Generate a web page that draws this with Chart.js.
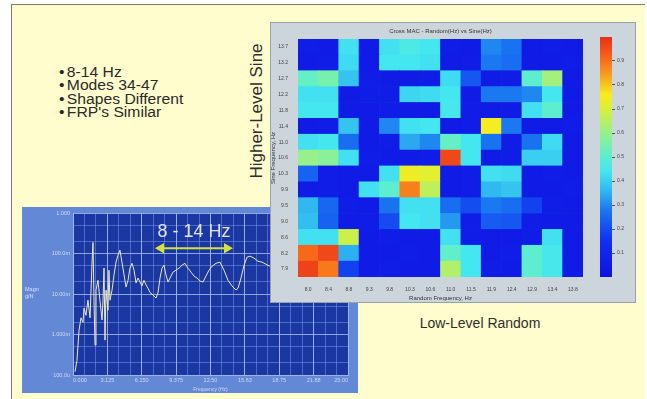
<!DOCTYPE html>
<html>
<head>
<meta charset="utf-8">
<script src="https://cdn.jsdelivr.net/npm/chart.js@4.4.1/dist/chart.umd.min.js"></script>
<style>
  html, body { margin: 0; padding: 0; background: #ffffff; width: 647px; height: 399px; overflow: hidden;
    font-family: "Liberation Sans", Arial, sans-serif; }
  #slide { position: absolute; left: 11px; top: 4px; width: 634px; height: 395px; background: #fffdcd;
    border-left: 1px solid #7c7c72; border-top: 1px solid #7c7c72; box-sizing: border-box; }
  .bullets { position: absolute; left: 59px; top: 66px; font-size: 14px; line-height: 13.4px; color: #2a2a2a;
    white-space: nowrap; transform: scaleX(1.12); transform-origin: left top; }
  .bullets span { display: inline-block; width: 7px; }
  .side { position: absolute; font-size: 14px; color: #2e2e2e; white-space: nowrap; transform: translate(-50%, -50%); }
  #sineLabel { left: 257px; top: 111px; font-size: 17px; transform: translate(-50%, -50%) rotate(-90deg); }
  #randomLabel { left: 480px; top: 323px; }
  #frpPanel { position: absolute; left: 22px; top: 207px; width: 336px; height: 186px; background: #6388d6; }
  #macPanel { position: absolute; left: 270px; top: 22px; width: 366px; height: 281px; background: #ccd4dc;
    border: 1px solid #98a2ae; box-sizing: border-box; }
  canvas { position: absolute; }
</style>
</head>
<body>
<div id="slide"></div>
<div class="bullets">
  <div><span>•</span>8-14 Hz</div>
  <div><span>•</span>Modes 34-47</div>
  <div><span>•</span>Shapes Different</div>
  <div><span>•</span>FRP's Similar</div>
</div>
<div class="side" id="sineLabel">Higher-Level Sine</div>
<div class="side" id="randomLabel">Low-Level Random</div>

<div id="frpPanel"></div>
<canvas id="frp" width="336" height="186" style="left:22px;top:207px;width:336px;height:186px"></canvas>

<div id="macPanel"></div>
<canvas id="mac" width="366" height="280" style="left:270px;top:22px;width:366px;height:280px"></canvas>
<canvas id="cbar" width="40" height="280" style="left:596px;top:22px;width:40px;height:280px"></canvas>

<script>
// ---- FRP magnitude trace (frequency in Hz, magnitude in g/N) ----
const frpFreqHz = [0.18,0.36,0.55,0.73,0.91,1.0,1.18,1.36,1.55,1.73,1.82,1.91,2.0,2.09,2.27,2.45,2.64,2.73,2.82,2.91,
  3.0,3.18,3.27,3.36,3.55,3.73,3.91,4.09,4.27,4.45,4.64,4.82,5.0,5.18,5.36,5.55,5.73,5.91,6.09,6.27,6.45,6.64,6.82,
  7.0,7.27,7.55,7.73,7.91,8.09,8.27,8.45,8.64,8.82,9.09,9.36,9.64,9.91,10.18,10.45,10.73,11.0,11.27,11.55,11.82,
  12.09,12.36,12.64,13.0,13.36,13.73,14.09,14.45,14.82,15.0,15.27,15.55,15.82,16.09,16.45,16.82,17.18,17.55,17.91];
const frpMag = [1.2e-4,2.3e-4,1.3e-3,2.6e-3,2.0e-3,4.5e-3,3.0e-3,7.1e-3,2.6e-3,0.062,0.19,7.1e-3,5.5e-4,0.0126,0.022,
  7.1e-3,2.3e-3,7.1e-3,0.044,7.3e-4,0.0126,4.0e-3,0.039,7.1e-3,0.0126,0.030,0.062,0.092,0.122,0.062,0.030,0.015,0.022,
  0.044,0.058,0.039,0.019,0.025,0.020,0.016,0.022,0.017,0.014,0.011,0.0095,0.0080,0.011,0.025,0.044,0.052,0.030,0.020,
  0.025,0.035,0.039,0.044,0.052,0.058,0.044,0.035,0.028,0.025,0.021,0.020,0.028,0.039,0.049,0.058,0.062,0.039,0.022,
  0.016,0.0126,0.014,0.025,0.052,0.082,0.087,0.078,0.065,0.062,0.055,0.049];
const bandHz = [8, 14];
const bandLevel = 0.137;

const frpXTicks = [0, 3.125, 6.25, 9.375, 12.5, 15.625, 18.75, 21.875, 25];
const frpXTickLabels = ['0.000', '3.125', '6.250', '9.375', '12.50', '15.63', '18.75', '21.88', '25.00'];
const frpYTicks = [1e-4, 1e-3, 1e-2, 1e-1, 1];
const frpYTickLabels = ['100.0u', '1.000m', '10.00m', '100.0m', '1.000'];

// ---- MAC matrix: rows are sine modes (listed top row first), columns are random modes 34-47 ----
const randomFreqLabels = ['8.0','8.4','8.8','9.3','9.8','10.3','10.6','11.0','11.5','11.9','12.4','12.9','13.4','13.8'];
const sineFreqLabels = ['7.9','8.2','8.6','9.0','9.5','9.9','10.3','10.6','11.0','11.4','11.8','12.2','12.7','13.2','13.7']; // bottom to top
const macRowsTopDown = [
  [0.06,0.05,0.43,0.05,0.43,0.46,0.44,0.06,0.05,0.30,0.27,0.05,0.06,0.05],
  [0.05,0.06,0.42,0.05,0.44,0.44,0.43,0.05,0.06,0.28,0.26,0.05,0.05,0.06],
  [0.52,0.55,0.38,0.06,0.05,0.05,0.06,0.42,0.22,0.05,0.06,0.50,0.62,0.05],
  [0.43,0.43,0.05,0.06,0.06,0.41,0.42,0.44,0.05,0.28,0.28,0.30,0.44,0.05],
  [0.44,0.44,0.05,0.05,0.06,0.05,0.05,0.45,0.06,0.05,0.05,0.43,0.50,0.05],
  [0.05,0.06,0.38,0.05,0.30,0.43,0.44,0.05,0.06,0.75,0.28,0.05,0.05,0.06],
  [0.43,0.44,0.26,0.05,0.06,0.34,0.30,0.52,0.44,0.27,0.06,0.27,0.42,0.05],
  [0.60,0.58,0.43,0.06,0.05,0.05,0.06,0.96,0.44,0.05,0.06,0.40,0.40,0.05],
  [0.24,0.06,0.05,0.05,0.43,0.74,0.72,0.05,0.06,0.43,0.42,0.05,0.06,0.05],
  [0.05,0.06,0.05,0.43,0.50,0.88,0.66,0.05,0.06,0.36,0.38,0.05,0.05,0.06],
  [0.36,0.25,0.06,0.05,0.27,0.43,0.43,0.26,0.20,0.28,0.26,0.18,0.06,0.05],
  [0.37,0.24,0.05,0.06,0.20,0.44,0.43,0.32,0.06,0.23,0.22,0.06,0.05,0.05],
  [0.43,0.43,0.68,0.05,0.06,0.05,0.05,0.43,0.06,0.05,0.05,0.06,0.43,0.05],
  [0.91,0.96,0.35,0.05,0.05,0.06,0.05,0.51,0.44,0.05,0.06,0.50,0.45,0.05],
  [0.97,0.89,0.18,0.05,0.06,0.05,0.05,0.64,0.44,0.06,0.05,0.50,0.45,0.05]
];
const cbarTicks = [0.1, 0.2, 0.3, 0.4, 0.5, 0.6, 0.7, 0.8, 0.9];
const cbarTickLabels = ['0.1', '0.2', '0.3', '0.4', '0.5', '0.6', '0.7', '0.8', '0.9'];

// ---- colour map (jet-like, blue to red) ----
const cmapStops = [[0,'#1010e0'],[0.15,'#1030f0'],[0.28,'#1a78f0'],[0.36,'#30b8f0'],[0.44,'#44e6f0'],
  [0.52,'#64f0c4'],[0.62,'#a4f07c'],[0.70,'#d8f038'],[0.76,'#f8ec1c'],[0.84,'#f8a020'],[0.92,'#f86018'],[1,'#e83018']];
function hexRgb(h) { return [parseInt(h.slice(1,3),16), parseInt(h.slice(3,5),16), parseInt(h.slice(5,7),16)]; }
function cmap(v) {
  for (let i = 1; i < cmapStops.length; i++) {
    const [t1, c1] = cmapStops[i];
    if (v <= t1) {
      const [t0, c0] = cmapStops[i-1];
      const f = (v - t0) / (t1 - t0);
      const a = hexRgb(c0), b = hexRgb(c1);
      return `rgb(${a.map((x, k) => Math.round(x + (b[k] - x) * f)).join(',')})`;
    }
  }
  return cmapStops[cmapStops.length-1][1];
}

const FONT = '"Liberation Sans", Arial, sans-serif';
Chart.defaults.font.family = FONT;
Chart.defaults.animation = false;

// fills the plot area
const plotBg = {
  id: 'plotBg',
  beforeDraw(chart, args, opts) {
    const { ctx, chartArea: a } = chart;
    ctx.save(); ctx.fillStyle = opts.color;
    ctx.fillRect(a.left, a.top, a.right - a.left, a.bottom - a.top); ctx.restore();
  }
};

// band annotation text and the amplitude label of the FRP plot
const frpText = {
  id: 'frpText',
  afterDatasetsDraw(chart) {
    const { ctx, scales: { x, y }, chartArea: a } = chart;
    ctx.save();
    ctx.font = `18px ${FONT}`; ctx.fillStyle = '#dde3f2'; ctx.textAlign = 'center'; ctx.textBaseline = 'middle';
    ctx.fillText(`${bandHz[0]} - ${bandHz[1]} Hz`, x.getPixelForValue((bandHz[0] + bandHz[1]) / 2), y.getPixelForValue(bandLevel) - 16);
    ctx.font = `5.5px ${FONT}`; ctx.fillStyle = '#d6e0f6'; ctx.textAlign = 'left';
    ctx.fillText('Magn', 3, (a.top + a.bottom) / 2 - 5);
    ctx.fillText('g/N', 3, (a.top + a.bottom) / 2 + 2);
    ctx.restore();
  }
};

new Chart(document.getElementById('frp'), {
  type: 'line',
  data: {
    datasets: [
      { data: frpFreqHz.map((f, i) => ({ x: f, y: frpMag[i] })), borderColor: '#ece8c0', borderWidth: 1,
        pointRadius: 0, tension: 0 },
      { data: bandHz.map(f => ({ x: f, y: bandLevel })), borderColor: '#d6e23c', borderWidth: 2,
        pointStyle: 'triangle', pointRadius: 4, pointRotation: [-90, 90],
        pointBackgroundColor: '#d6e23c', pointBorderColor: '#d6e23c' }
    ]
  },
  options: {
    responsive: false, maintainAspectRatio: false,
    layout: { padding: { left: 0, right: 10, top: 6, bottom: 0 } },
    plugins: { legend: { display: false }, tooltip: { enabled: false }, plotBg: { color: '#1a37a2' } },
    scales: {
      xg: { type: 'linear', min: 0, max: 25, position: 'bottom',
        afterBuildTicks: a => { a.ticks = Array.from({ length: 23 }, (_, k) => ({ value: (k + 1) * 25 / 24 })); },
        ticks: { display: false }, border: { display: false },
        grid: { color: 'rgba(120,150,235,0.55)', lineWidth: 1, drawTicks: false },
        afterFit: a => { a.height = 0; } },
      yg: { type: 'logarithmic', min: 1e-4, max: 1, position: 'left',
        afterBuildTicks: a => { a.ticks = [2e-4,5e-4,2e-3,5e-3,2e-2,5e-2,0.2,0.5].map(v => ({ value: v })); },
        ticks: { display: false }, border: { display: false },
        grid: { color: 'rgba(120,150,235,0.55)', lineWidth: 1, drawTicks: false },
        afterFit: a => { a.width = 0; } },
      x: { type: 'linear', min: 0, max: 25,
        afterBuildTicks: a => { a.ticks = frpXTicks.map(v => ({ value: v })); },
        ticks: { callback: (v, i) => frpXTickLabels[i], align: 'inner', color: '#d0daf4', font: { size: 5.5 },
          padding: 2, maxRotation: 0, autoSkip: false },
        grid: { color: 'rgba(170,190,245,0.8)', drawTicks: false },
        border: { color: '#9fb4ee' },
        title: { display: true, text: 'Frequency (Hz)', color: '#d0daf4', font: { size: 5 }, padding: 0 },
        afterFit: a => { a.height = 18; } },
      y: { type: 'logarithmic', min: 1e-4, max: 1,
        afterBuildTicks: a => { a.ticks = frpYTicks.map(v => ({ value: v })); },
        ticks: { callback: (v, i) => frpYTickLabels[i], color: '#d0daf4', font: { size: 5.5 }, padding: 3, autoSkip: false },
        grid: { color: 'rgba(170,190,245,0.8)', drawTicks: false },
        border: { color: '#9fb4ee' },
        afterFit: a => { a.width = 51; } }
    }
  },
  plugins: [plotBg, frpText]
});

// ---- MAC matrix as stacked unit cells, one dataset per sine mode ----
const macRowsBottomUp = macRowsTopDown.slice().reverse();
const macTitle = {
  id: 'macTitle',
  afterDraw(chart) {
    const { ctx, chartArea: a } = chart;
    ctx.save(); ctx.font = `6px ${FONT}`; ctx.fillStyle = '#333'; ctx.textAlign = 'center'; ctx.textBaseline = 'middle';
    ctx.fillText('Cross MAC - Random(Hz) vs Sine(Hz)', (a.left + a.right) / 2, a.top - 8);
    ctx.restore();
  }
};
new Chart(document.getElementById('mac'), {
  type: 'bar',
  data: {
    labels: randomFreqLabels,
    datasets: macRowsBottomUp.map(row => ({
      data: row.map(() => 1),
      backgroundColor: row.map(cmap),
      borderWidth: 0, barPercentage: 1, categoryPercentage: 1
    }))
  },
  options: {
    responsive: false, maintainAspectRatio: false,
    layout: { padding: { left: 0, right: 53, top: 17, bottom: 0 } },
    plugins: { legend: { display: false }, tooltip: { enabled: false } },
    scales: {
      x: { stacked: true,
        ticks: { color: '#444', font: { size: 5 }, padding: 2, maxRotation: 0, autoSkip: false },
        grid: { display: false }, border: { display: false },
        title: { display: true, text: 'Random Frequency, Hz', color: '#333', font: { size: 6 }, padding: 0 },
        afterFit: a => { a.height = 25; } },
      y: { stacked: true, min: 0, max: sineFreqLabels.length,
        afterBuildTicks: a => { a.ticks = sineFreqLabels.map((_, i) => ({ value: i + 0.5 })); },
        ticks: { callback: (v, i) => sineFreqLabels[i], color: '#444', font: { size: 5 }, padding: 2, autoSkip: false },
        grid: { display: false }, border: { display: false },
        title: { display: true, text: 'Sine Frequency, Hz', color: '#333', font: { size: 6 }, padding: 0 },
        afterFit: a => { a.width = 28; } }
    }
  },
  plugins: [macTitle]
});

// ---- colour bar ----
new Chart(document.getElementById('cbar'), {
  type: 'bar',
  data: {
    labels: [''],
    datasets: [{
      data: [[0, 1]], borderWidth: 0, barPercentage: 1, categoryPercentage: 1,
      backgroundColor: c => {
        const a = c.chart.chartArea; if (!a) return null;
        const g = c.chart.ctx.createLinearGradient(0, a.bottom, 0, a.top);
        cmapStops.forEach(([t, col]) => g.addColorStop(t, col));
        return g;
      }
    }]
  },
  options: {
    responsive: false, maintainAspectRatio: false,
    layout: { padding: { left: 4, right: 0, top: 15, bottom: 25 } },
    plugins: { legend: { display: false }, tooltip: { enabled: false } },
    scales: {
      x: { display: false },
      y: { position: 'right', min: 0, max: 1,
        afterBuildTicks: a => { a.ticks = cbarTicks.map(v => ({ value: v })); },
        ticks: { callback: (v, i) => cbarTickLabels[i], color: '#444', font: { size: 5 }, padding: 2, autoSkip: false },
        grid: { drawOnChartArea: false, tickLength: 3, color: '#555' }, border: { display: false },
        afterFit: a => { a.width = 24; } }
    }
  }
});
</script>
</body>
</html>
